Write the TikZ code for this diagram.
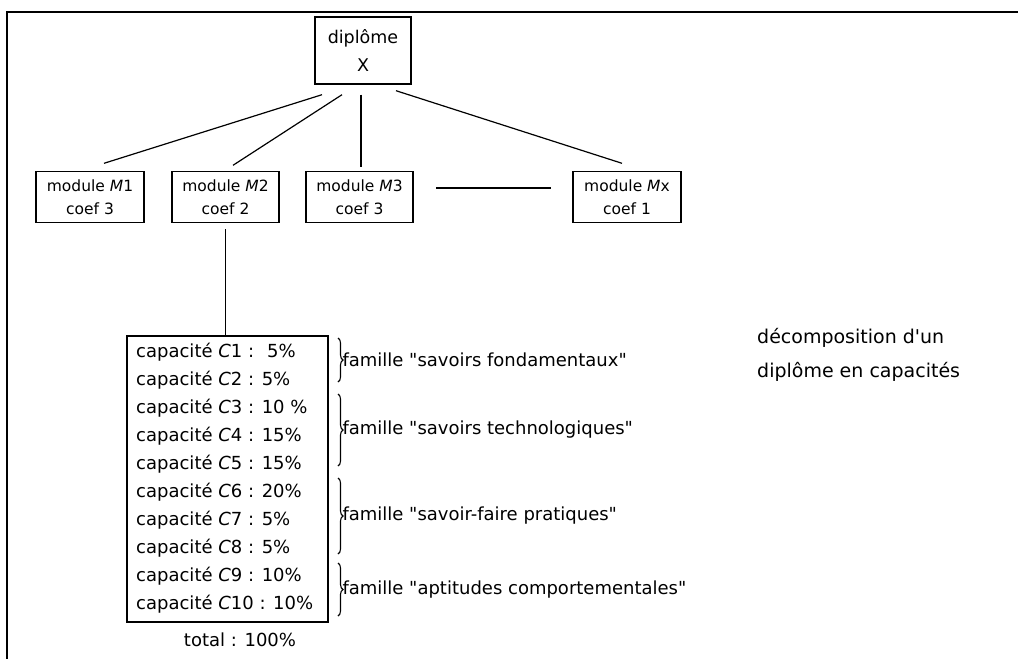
\documentclass[tikz,border=0pt]{standalone}
\usepackage{fontspec}
\setmainfont{DejaVu Sans}
\usetikzlibrary{positioning,decorations.pathreplacing}

\tikzset{
  boite/.style={draw,line width=1.4pt,align=center,inner sep=1pt,
    font=\fontsize{15.5}{23}\selectfont},
  trait/.style={line width=1.2pt},
  ligne/.style={inner sep=0pt,anchor=west,font=\fontsize{18}{20}\selectfont},
  accolade/.style={decorate,decoration={brace,amplitude=5pt},line width=1.1pt}
}

\begin{document}
\begin{tikzpicture}[x=1pt,y=-1pt]
	\useasboundingbox (0,0) rectangle (1018,659);
	\draw[line width=1.6pt] (7,659) -- (7,12) -- (1018,12);
	% diplome et modules
	\node[boite,minimum width=96,minimum height=67,font=\fontsize{17.5}{28}\selectfont] (dip) at (363,50.5) {diplôme\\X};
	\node[boite,minimum width=108,minimum height=51] (m1) at (90,197) {module \textit{M}1\\coef 3};
	\node[boite,minimum width=107,minimum height=51] (m2) at (225.5,197) {module \textit{M}2\\coef 2};
	\node[boite,minimum width=107,minimum height=51] (m3) at (359.5,197) {module \textit{M}3\\coef 3};
	\node[boite,minimum width=108,minimum height=51] (mx) at (627,197) {module \textit{M}x\\coef 1};
	\draw[trait] ([xshift=-41pt,yshift=-10pt]dip.south) -- ([xshift=14pt,yshift=7.5pt]m1.north);
	\draw[trait] ([xshift=-21pt,yshift=-10pt]dip.south) -- ([xshift=7.5pt,yshift=5.5pt]m2.north);
	\draw[trait] ([xshift=-2pt,yshift=-10pt]dip.south) -- ([xshift=1.5pt,yshift=3.5pt]m3.north);
	\draw[trait] ([xshift=33pt,yshift=-6pt]dip.south) -- ([xshift=-5pt,yshift=7.5pt]mx.north);
	\draw[trait] ([xshift=22.5pt,yshift=9pt]m3.east) -- ([xshift=-21pt,yshift=9pt]mx.west);
	% capacites du module M2
	\node[draw,line width=1.4pt,minimum width=201,minimum height=286] (caps) at (227.5,479) {};
	\draw[trait] ([yshift=-6pt]m2.south) -- (caps.north -| m2.south);
	\foreach \i/\v in {1/{\hspace{0.3em}5\%},2/5\%,3/10 \%,4/15\%,5/15\%,6/20\%,7/5\%,8/5\%,9/10\%,10/10\%}
		\node[ligne] (c\i) at (136,{352+28*(\i-1)}) {capacité \textit{C}\i\ : \v};
	\node[ligne,anchor=center] (total) at (240,640) {total : 100\%};
	% familles
	\draw[accolade] (338,338) -- (338,382) node[midway,right=4pt,ligne] (f1) {famille \textquotedbl savoirs fondamentaux\textquotedbl};
	\draw[accolade] (338,394) -- (338,466) node[midway,right=4pt,ligne] (f2) {famille \textquotedbl savoirs technologiques\textquotedbl};
	\draw[accolade] (338,478) -- (338,554) node[midway,right=4pt,ligne] (f3) {famille \textquotedbl savoir-faire pratiques\textquotedbl};
	\draw[accolade] (338,563) -- (338,616) node[midway,right=4pt,ligne] (f4) {famille \textquotedbl aptitudes comportementales\textquotedbl};
	\node[ligne,align=left,font=\fontsize{19}{34}\selectfont] (titre) at (757,355) {décomposition d\textquotesingle un\\diplôme en capacités};
\end{tikzpicture}
\end{document}
